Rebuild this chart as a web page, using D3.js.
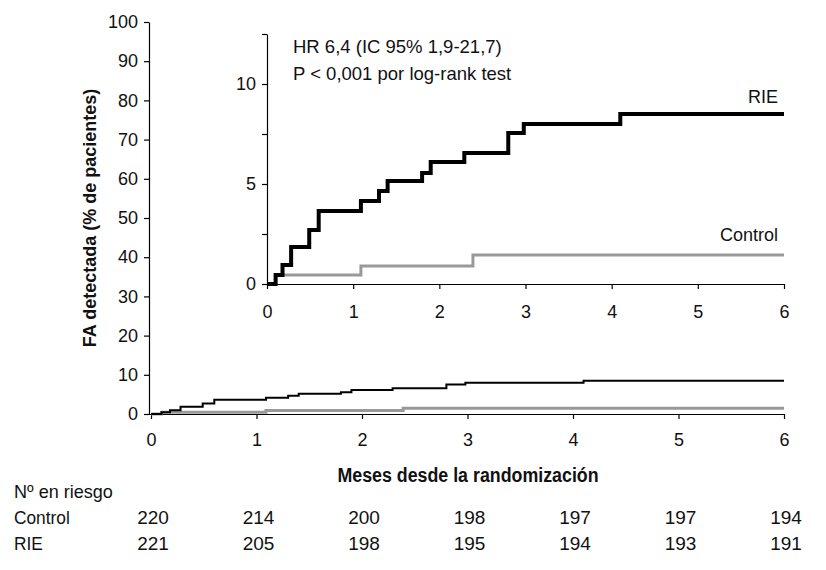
<!DOCTYPE html>
<html>
<head>
<meta charset="utf-8">
<script src="https://cdn.jsdelivr.net/npm/d3@7/dist/d3.min.js"></script>
<style>
  body { margin: 0; background: #fff; }
  text { fill: #111; }
  .reg { font-family: "Liberation Sans", Arial, sans-serif; }
</style>
</head>
<body>
<div id="chart"></div>
<script>
// meses de seguimiento / incidencia acumulada de FA (%)
var rieTimes    = [0, 0.10, 0.18, 0.28, 0.49, 0.60, 1.09, 1.30, 1.40, 1.80, 1.90, 2.29, 2.80, 2.98, 4.10, 6];
var rieValues   = [0, 0.45, 0.95, 1.85, 2.70, 3.65, 4.15, 4.65, 5.15, 5.55, 6.10, 6.55, 7.55, 8.00, 8.50, 8.50];
var ctrlTimes   = [0, 0.10, 1.09, 2.39, 6];
var ctrlValues  = [0, 0.45, 0.90, 1.45, 1.45];

// numero en riesgo
var riskMonths  = [0, 1, 2, 3, 4, 5, 6];
var riskControl = [220, 214, 200, 198, 197, 197, 194];
var riskRIE     = [221, 205, 198, 195, 194, 193, 191];

var mainYTicks  = [0, 10, 20, 30, 40, 50, 60, 70, 80, 90, 100];
var insetYTicks = [0, 2.5, 5, 7.5, 10, 12.5];
var insetYLabels = [0, 5, 10];
var statLines   = ["HR 6,4 (IC 95% 1,9-21,7)", "P < 0,001 por log-rank test"];

var W = 826, H = 570;
var svg = d3.select("#chart").append("svg")
    .attr("width", W).attr("height", H);

function series(times, values) {
    return times.map(function (t, i) { return [t, values[i]]; });
}
var rie = series(rieTimes, rieValues);
var ctrl = series(ctrlTimes, ctrlValues);

// condensed look: squeeze regular text horizontally (no narrow font installed)
function narrow(sel, k) {
    sel.each(function () {
        var w = this.getComputedTextLength();
        d3.select(this).attr("textLength", w * (k || 0.88)).attr("lengthAdjust", "spacingAndGlyphs");
    });
}

// ---- main chart ----
var x = d3.scaleLinear().domain([0, 6]).range([151, 784]);
var y = d3.scaleLinear().domain([0, 100]).range([414, 22]);

var yAxis = svg.append("g")
    .attr("transform", "translate(149,0)")
    .call(d3.axisLeft(y).tickValues(mainYTicks).tickSize(5).tickSizeOuter(0).tickPadding(6));
var xAxis = svg.append("g")
    .attr("transform", "translate(0,414)")
    .call(d3.axisBottom(x).ticks(6).tickSize(5).tickSizeOuter(0).tickPadding(14));
[yAxis, xAxis].forEach(function (g) {
    g.selectAll("path, line").attr("stroke", "#000").attr("stroke-width", 1.2);
    g.selectAll("text").attr("class", "reg").attr("font-size", 18).attr("fill", "#111");
});
xAxis.select(".domain").attr("d", "M149,0.5H784");

var line = d3.line()
    .x(function (d) { return x(d[0]); })
    .y(function (d) { return y(d[1]); })
    .curve(d3.curveStepAfter);

svg.append("path").datum(ctrl).attr("d", line)
    .attr("fill", "none").attr("stroke", "#999").attr("stroke-width", 3);
svg.append("path").datum(rie).attr("d", line)
    .attr("fill", "none").attr("stroke", "#000").attr("stroke-width", 2);

svg.append("text").attr("class", "reg")
    .attr("transform", "translate(96,218) rotate(-90)")
    .attr("text-anchor", "middle").attr("font-weight", "bold").attr("font-size", 18)
    .text("FA detectada (% de pacientes)");

svg.append("text").attr("class", "reg")
    .attr("x", 468).attr("y", 482)
    .attr("text-anchor", "middle").attr("font-weight", "bold").attr("font-size", 20)
    .text("Meses desde la randomización")
    .call(narrow, 0.89);

// ---- inset ----
var xi = d3.scaleLinear().domain([0, 6]).range([267, 784]);
var yi = d3.scaleLinear().domain([0, 12.5]).range([284, 34]);

var yiAxis = svg.append("g")
    .attr("transform", "translate(267,0)")
    .call(d3.axisLeft(yi).tickValues(insetYTicks).tickSize(5).tickSizeOuter(0).tickPadding(6)
        .tickFormat(function (d) { return insetYLabels.indexOf(d) >= 0 ? d : ""; }));
var xiAxis = svg.append("g")
    .attr("transform", "translate(0,284)")
    .call(d3.axisBottom(xi).ticks(6).tickSize(5).tickSizeOuter(0).tickPadding(16));
[yiAxis, xiAxis].forEach(function (g) {
    g.selectAll("path, line").attr("stroke", "#000").attr("stroke-width", 1.2);
    g.selectAll("text").attr("class", "reg").attr("font-size", 18).attr("fill", "#111");
});

var linei = d3.line()
    .x(function (d) { return xi(d[0]); })
    .y(function (d) { return yi(d[1]); })
    .curve(d3.curveStepAfter);

svg.append("path").datum(ctrl).attr("d", linei)
    .attr("fill", "none").attr("stroke", "#999").attr("stroke-width", 3);
svg.append("path").datum(rie).attr("d", linei)
    .attr("fill", "none").attr("stroke", "#000").attr("stroke-width", 4);

svg.append("text").attr("class", "reg")
    .attr("x", 778).attr("y", 103).attr("text-anchor", "end").attr("font-size", 18)
    .text("RIE");
svg.append("text").attr("class", "reg")
    .attr("x", 778).attr("y", 241).attr("text-anchor", "end").attr("font-size", 18)
    .text("Control");

svg.selectAll(".stat").data(statLines).enter().append("text")
    .attr("class", "reg stat")
    .attr("x", 293).attr("y", function (d, i) { return 53 + i * 27; })
    .attr("font-size", 18.5)
    .text(function (d) { return d; });

// ---- tabla de riesgo ----
svg.append("text").attr("class", "reg")
    .attr("x", 14).attr("y", 498).attr("font-size", 19).text("Nº en riesgo")
    .call(narrow, 0.95);

[["Control", riskControl, 524], ["RIE", riskRIE, 550]].forEach(function (row) {
    svg.append("text").attr("class", "reg")
        .attr("x", 14).attr("y", row[2]).attr("font-size", 19).text(row[0])
        .call(narrow, 0.91);
    svg.selectAll(null).data(row[1]).enter().append("text")
        .attr("class", "reg")
        .attr("x", function (d, i) { return x(riskMonths[i]) + 2; })
        .attr("y", row[2])
        .attr("text-anchor", "middle").attr("font-size", 19)
        .text(function (d) { return d; });
});
</script>
</body>
</html>
